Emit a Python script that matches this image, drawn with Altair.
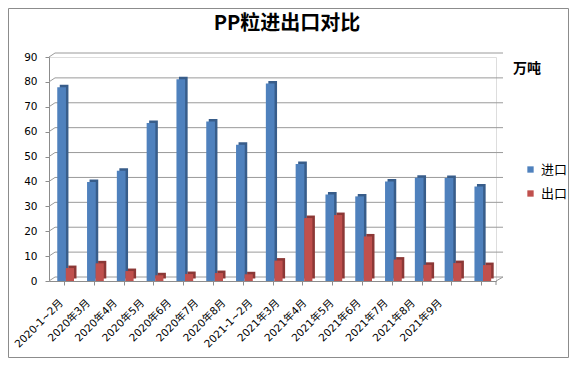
import altair as alt
import pandas as pd

categories = ["2020-1~2月", "2020年3月", "2020年4月", "2020年5月", "2020年6月",
              "2020年7月", "2020年8月", "2021-1~2月", "2021年3月", "2021年4月",
              "2021年5月", "2021年6月", "2021年7月", "2021年8月", "2021年9月"]
imports = [77.8, 39.8, 44.3, 63.5, 81.1, 64.1, 54.7, 79.4, 47.0, 34.8, 34.0, 40.0, 41.5, 41.4, 38.0]
exports = [5.2, 7.1, 4.0, 2.3, 2.8, 3.2, 2.7, 8.2, 25.3, 26.5, 17.9, 8.6, 6.5, 7.2, 6.4]
series_names = ["进口", "出口"]
y_ticks = list(range(0, 100, 10))

W, H = 447, 224
FONT = "DejaVu Sans, Noto Sans CJK SC"
CJK = "Noto Sans CJK SC"

df = pd.DataFrame({
    "cat": categories + categories,
    "series": [series_names[0]] * len(categories) + [series_names[1]] * len(categories),
    "value": imports + exports,
})
lab_df = pd.DataFrame({"cat": categories, "i": list(range(len(categories)))})
grid_df = pd.DataFrame({"value": y_ticks})
one = pd.DataFrame({"a": [0]})

yscale = alt.Scale(domain=[0, 90], nice=False, zero=True)
xscale = alt.Scale(domain=categories, paddingInner=0, paddingOuter=0)

X = alt.X("cat:N", scale=xscale, sort=categories, title=None, axis=None)
Y = alt.Y("value:Q", scale=yscale, title=None)

axes = alt.Chart(df).mark_point(opacity=0).encode(
    x=alt.X("cat:N", scale=xscale, sort=categories, title=None,
            axis=alt.Axis(bandPosition=0, labels=False, tickSize=4, grid=False,
                          tickColor="#8c8c8c", domainColor="#8c8c8c")),
    y=alt.Y("value:Q", scale=yscale, title=None,
            axis=alt.Axis(values=y_ticks, tickCount=10, grid=False, tickSize=4,
                          labelPadding=8, labelOverlap=False,
                          tickColor="#8c8c8c", domainColor="#8c8c8c",
                          labelFont=FONT, labelFontSize=10.5, labelColor="#000")),
)

# category labels (the reference spaces them slightly tighter than the bars)
labels = alt.Chart(lab_df).mark_text(angle=315, align="right", baseline="top",
                                     font=FONT, fontSize=10.5, color="#000").encode(
    x=alt.X("i:Q", scale=alt.Scale(domain=[0, len(categories) - 1], range=[9, 388]), axis=None),
    y=alt.value(H + 17),
    text="cat:N",
)

# outer border
border = alt.Chart(one).mark_rect(fillOpacity=0, stroke="#8c8c8c", strokeWidth=1).encode(
    x=alt.value(-40.5), x2=alt.value(W + 72.5), y=alt.value(-48.5), y2=alt.value(H + 76.5)
)

# back-wall gridlines
grid = alt.Chart(grid_df).mark_rule(color="#9a9a9a", strokeWidth=1, yOffset=-4).encode(
    x=alt.value(6), x2=alt.value(W + 7), y=Y,
)
diag = alt.Chart(grid_df).mark_rule(color="#9a9a9a", strokeWidth=1, y2Offset=-4).encode(
    x=alt.value(0), x2=alt.value(6), y=Y, y2="value:Q",
)
floor_right = alt.Chart(one).mark_rule(color="#9a9a9a", strokeWidth=1).encode(
    x=alt.value(W), x2=alt.value(W + 7), y=alt.value(H), y2=alt.value(H - 4)
)
last_tick = alt.Chart(one).mark_rule(color="#8c8c8c", strokeWidth=1).encode(
    x=alt.value(W), y=alt.value(H), y2=alt.value(H + 4)
)

color = alt.Color(
    "series:N",
    scale=alt.Scale(domain=series_names, range=["#4F81BD", "#C0504D"]),
    legend=alt.Legend(title=None, orient="none", legendX=475, legendY=106,
                      symbolType="square", symbolSize=40, symbolStrokeWidth=0,
                      labelFont=CJK, labelFontSize=13, labelColor="#000",
                      rowPadding=10, padding=0, labelOffset=4),
)

def bars(name, front_off, side_col, width):
    d = alt.Chart(df).transform_filter(alt.datum.series == name)
    side = d.mark_bar(width=width, xOffset=front_off + 2.5, yOffset=-2.5, y2Offset=-2.5,
                      color=side_col).encode(x=X, y=Y)
    front = d.mark_bar(width=width, xOffset=front_off).encode(x=X, y=Y, color=color)
    return side, front

b_side, b_front = bars("进口", -2.3, "#385D8A", 8.7)
r_side, r_front = bars("出口", 6.0, "#8C3836", 8.2)

title = alt.Chart(one).mark_text(text="PP粒进出口对比", font=CJK, fontSize=20,
                                 fontWeight="bold", color="#000", baseline="middle").encode(
    x=alt.value(238), y=alt.value(-33)
)
unit = alt.Chart(one).mark_text(text="万吨", font=CJK, fontSize=14,
                                fontWeight="bold", color="#000", baseline="middle").encode(
    x=alt.value(478), y=alt.value(12)
)

chart = alt.layer(
    axes, border, grid, diag, floor_right, last_tick,
    b_side, b_front, r_side, r_front, labels, title, unit,
).resolve_scale(x="independent").properties(
    width=W, height=H,
    autosize=alt.AutoSizeParams(type="none"),
    padding={"left": 41, "top": 49, "right": 73, "bottom": 77},
).configure_view(stroke=None).configure(background="white")

chart.save("out.html", embed_options={"renderer": "svg", "actions": False})
